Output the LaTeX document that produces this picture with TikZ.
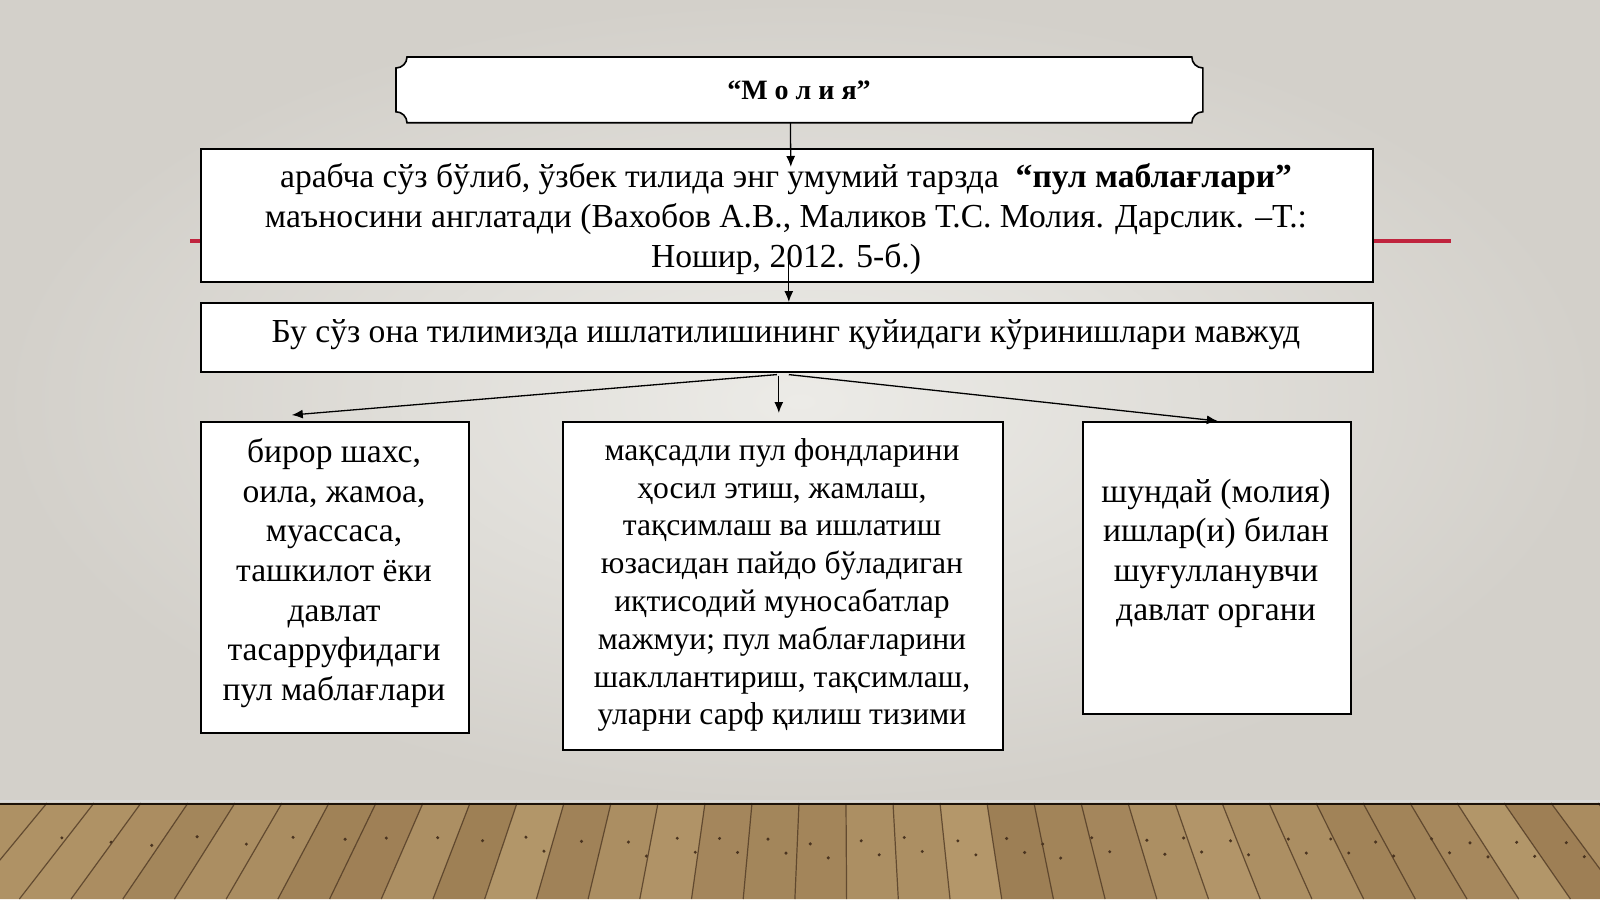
\documentclass[tikz,border=0pt]{standalone}
\usepackage{fontspec}
\setmainfont{Liberation Serif}
\usetikzlibrary{arrows.meta,calc}
\definecolor{bgIn}{HTML}{ECEBE7}
\definecolor{bgOut}{HTML}{D3D0CA}
\definecolor{redline}{HTML}{C0243E}
\definecolor{floorA}{HTML}{BA9E70}
\definecolor{floorB}{HTML}{8E6E46}
\definecolor{seamc}{HTML}{4A3420}
\begin{document}
\begin{tikzpicture}[x=0.5pt,y=-0.5pt,
  box/.style={draw=black,line width=0.8pt,fill=white,inner sep=0pt,anchor=north west},
  arr/.style={line width=0.65pt,-{Latex[length=5.5pt,width=4.5pt]}},
  txt/.style={font=\fontsize{16.8}{19.8}\selectfont,align=center,inner sep=0pt},
  txtsm/.style={font=\fontsize{15.8}{18.9}\selectfont,align=center,inner sep=0pt},
]
\path[use as bounding box] (0,0) rectangle (1600,899);
% background
\shade[inner color=bgIn,outer color=bgOut] (0,0) rectangle (1600,803);
% floor
\fill[floorA!65!floorB] (0,803) rectangle (1600,899);
\pgfmathsetseed{11}
\foreach \i in {-5,...,40}{
  \pgfmathsetmacro\xa{\i*47}
  \pgfmathsetmacro\xb{\xa+47}
  \pgfmathsetmacro\xc{840+(\xb-840)*1.10}
  \pgfmathsetmacro\xd{840+(\xa-840)*1.10}
  \pgfmathtruncatemacro\sh{35+55*rnd}
  \pgfmathsetmacro\nx{\xa+8+14*rnd}
  \pgfmathsetmacro\ny{836+10*rnd}
  \fill[floorA!\sh!floorB] (\xa,803) -- (\xb,803) -- (\xc,899) -- (\xd,899) -- cycle;
  \draw[seamc,line width=0.6pt,opacity=0.75] (\xa,803) -- (\xd,899);
  \fill[seamc] (\nx,\ny) circle (1.7);
  \fill[seamc] (\nx+18,\ny+14) circle (1.7);
}
\draw[white!85!black,line width=0.6pt] (0,801) -- (1600,801);
\draw[black!85!brown,line width=1.1pt] (0,804) -- (1600,804);
% red line
\draw[redline,line width=1.6pt] (190,241) -- (1451,241);
% title
\node[inner sep=0pt,minimum width=403pt,minimum height=32.5pt,anchor=north west] (title) at (396,57) {};
\def\rr{11}
\draw[line width=0.8pt,fill=white]
  ($(title.north west)+(\rr,0)$) -- ($(title.north east)+(-\rr,0)$)
  .. controls ($(title.north east)+(-\rr,0.55*\rr)$) and ($(title.north east)+(-0.55*\rr,\rr)$) .. ($(title.north east)+(0,\rr)$)
  -- ($(title.south east)+(0,-\rr)$)
  .. controls ($(title.south east)+(-0.55*\rr,-\rr)$) and ($(title.south east)+(-\rr,-0.55*\rr)$) .. ($(title.south east)+(-\rr,0)$)
  -- ($(title.south west)+(\rr,0)$)
  .. controls ($(title.south west)+(\rr,-0.55*\rr)$) and ($(title.south west)+(0.55*\rr,-\rr)$) .. ($(title.south west)+(0,-\rr)$)
  -- ($(title.north west)+(0,\rr)$)
  .. controls ($(title.north west)+(0.55*\rr,\rr)$) and ($(title.north west)+(\rr,0.55*\rr)$) .. ($(title.north west)+(\rr,0)$) -- cycle;
\node[font=\fontsize{14}{16}\selectfont\bfseries,inner sep=0pt] (titletext) at (799,90) {“М о л и я”};
% boxes
\node[box,minimum width=586pt,minimum height=66.5pt] (box2) at (200,148) {};
\node[box,minimum width=586pt,minimum height=34.5pt] (box3) at (200,302) {};
\node[box,minimum width=134pt,minimum height=155.5pt] (box4) at (200,421) {};
\node[box,minimum width=220pt,minimum height=164pt] (box5) at (562,421) {};
\node[box,minimum width=134pt,minimum height=146pt] (box6) at (1082,421) {};
% texts
\node[txt] (t2) at (786,219) {арабча сўз бўлиб, ўзбек тилида энг умумий тарзда\ \ \textbf{“пул маблағлари”}\\маъносини англатади (Вахобов А.В., Маликов Т.С. Молия. Дарслик. –Т.:\\Ношир, 2012. 5-б.)};
\node[txt] (t3) at (786,335) {Бу сўз она тилимизда ишлатилишининг қуйидаги кўринишлари мавжуд};
\node[txt] (t4) at (334,573) {бирор шахс,\\оила, жамоа,\\муассаса,\\ташкилот ёки\\давлат\\тасарруфидаги\\пул маблағлари};
\node[txtsm] (t5) at (782,585) {мақсадли пул фондларини\\ҳосил этиш, жамлаш,\\тақсимлаш ва ишлатиш\\юзасидан пайдо бўладиган\\иқтисодий муносабатлар\\мажмуи; пул маблағларини\\шакллантириш, тақсимлаш,\\уларни сарф қилиш тизими};
\node[txt] (t6) at (1216,553.5) {шундай (молия)\\ишлар(и) билан\\шуғулланувчи\\давлат органи};
% arrows
\draw[arr] ($(title.south)+(-9,0)$) -- ($(box2.north)+(4,19)$);
\draw[arr] ($(box2.south)+(2,-30)$) -- ($(box3.north)+(2,0)$);
\draw[arr] ($(box3.south)+(-10,2)$) -- ($(box4.north)+(-43,-6)$);
\draw[arr] ($(box3.south)+(-8,3)$) -- ($(box5.north)+(-4,-8)$);
\draw[arr] ($(box3.south)+(2,2)$) -- ($(box6.north)+(1,0)$);
\end{tikzpicture}
\end{document}
